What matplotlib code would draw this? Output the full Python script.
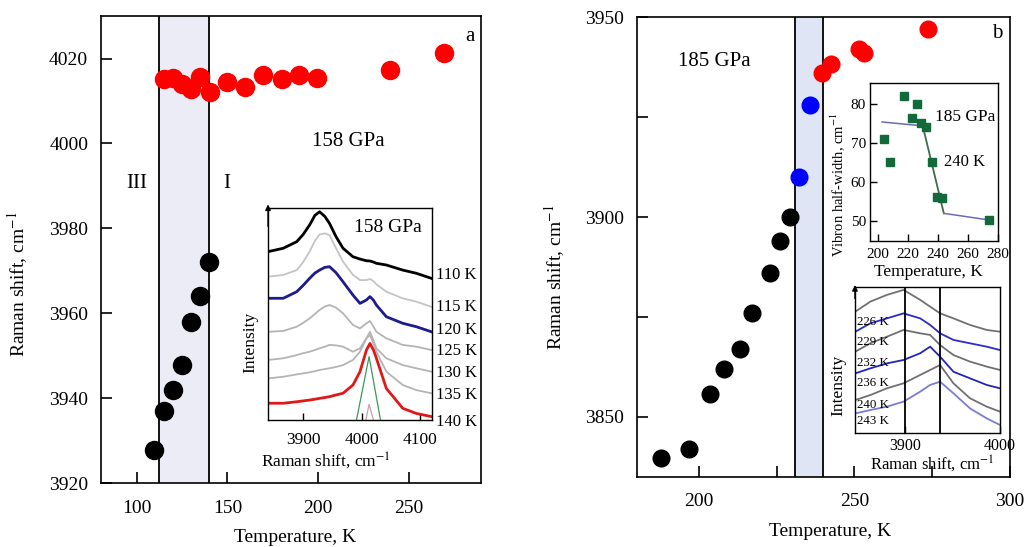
import matplotlib
matplotlib.use("Agg")
import matplotlib.pyplot as plt
from matplotlib.ticker import MultipleLocator

plt.rcParams['font.family'] = ['Liberation Serif', 'DejaVu Serif']
plt.rcParams['mathtext.fontset'] = 'stix'

# ---- panel a, 158 GPa ----
a_red_T = [114.7, 119.8, 124.8, 129.8, 134.9, 140.4, 149.6, 159.7, 169.7, 179.9, 189.6, 199.5, 239.8, 269.8]
a_red_shift = [4015.1, 4015.4, 4014.1, 4012.9, 4015.7, 4012.1, 4014.5, 4013.3, 4016.2, 4015.1, 4016.2, 4015.3, 4017.2, 4021.2]
a_black_T = [109.7, 114.7, 120, 125, 129.7, 135, 140]
a_black_shift = [3927.9, 3937, 3941.9, 3947.9, 3958, 3964, 3972]
a_band = (112, 140)

# inset a: spectra (arbitrary intensity units)
a_spec_x = [3840, 3866, 3889, 3900, 3911, 3920, 3928, 3937, 3945, 3956, 3968, 3985, 3997, 4008, 4014, 4020, 4025, 4042, 4070, 4093, 4119]
a_spec_110 = [79.4, 81, 84.1, 87.5, 92, 96.5, 98.2, 96, 92.7, 86.5, 81, 77, 75.9, 75.1, 75, 74.5, 73.9, 73.1, 70.7, 69.2, 66.8]
a_spec_115 = [67.6, 68.4, 70.7, 74.5, 79.4, 84.5, 87.5, 88, 87.2, 81, 74.7, 68.4, 66, 66, 66.5, 65.5, 64, 60.5, 57.4, 55.8, 53.4]
a_spec_120 = [57.4, 57.4, 60.5, 63.5, 66.8, 69.3, 70.7, 72, 72.3, 69.5, 65.2, 58.9, 55, 56.6, 58.2, 56.5, 54.2, 48.7, 45.6, 44, 41.6]
a_spec_125 = [41.6, 42, 44, 45.8, 47.9, 50, 51.9, 53.5, 54.2, 53, 50.3, 44.8, 43.2, 45.6, 46.7, 44, 41.6, 38.5, 35.4, 34.6, 33]
a_spec_130 = [28.3, 29.1, 30.6, 31.5, 32.2, 33, 33.8, 34.6, 35.4, 35.2, 34.6, 32.2, 33.8, 38.5, 41.6, 37.5, 33.8, 29.1, 25.9, 24.4, 22.8]
a_spec_135 = [19.6, 20.4, 21.5, 22, 22.5, 23, 23.6, 24, 24.4, 25, 25.9, 28.3, 32.2, 38.5, 40.1, 36, 32.2, 22.8, 16.5, 14.1, 12.6]
a_spec_140 = [7.9, 7.9, 8.6, 9, 9.4, 9.8, 10.2, 10.6, 11, 11.8, 12.6, 16.5, 22.8, 33, 36.1, 33, 29.1, 14.9, 5.5, 3.1, 1.6]
a_fit_x = [3991, 4012.5, 4032]
a_fit_y = [0, 29.9, 0]
a_small_x = [4007, 4012.5, 4020]
a_small_y = [0, 7.4, 0]
a_labels = ["110 K", "115 K", "120 K", "125 K", "130 K", "135 K", "140 K"]

# ---- panel b, 185 GPa ----
b_black_T = [187.7, 196.8, 203.7, 208, 213.1, 216.9, 223, 226, 229.3]
b_black_shift = [3839.8, 3841.9, 3855.7, 3862, 3867, 3876, 3886, 3894, 3900]
b_blue_T = [232.2, 235.8]
b_blue_shift = [3910, 3928]
b_red_T = [239.5, 242.5, 251.3, 253.1, 273.6]
b_red_shift = [3936.1, 3938.2, 3942, 3941, 3947]
b_band = (231, 240)

# inset b, vibron half-width
hw_T = [204, 208, 217.7, 223.2, 226, 229.1, 232.2, 235.9, 239.7, 243, 274]
hw = [71.1, 65.1, 82.1, 76.3, 80.1, 75.1, 74.1, 65.1, 56.2, 56, 50.3]
fit_T = [203, 230, 244, 274]
fit_hw = [75.4, 74.4, 52, 50.3]

# inset b, spectra
b_spec_x = [3847.4, 3863.2, 3880.7, 3898.2, 3915.8, 3926.3, 3936.8, 3950.9, 3968.4, 3986, 4000]
b_spec_226 = [83, 89.8, 94.4, 97.8, 91, 86.4, 81.8, 78.4, 73.9, 70.5, 69.3]
b_spec_229 = [69.3, 75, 78.4, 81.8, 78.4, 73.9, 68.2, 63.7, 61.4, 59.1, 56.8]
b_spec_232 = [55.7, 61.4, 65.9, 70.5, 68.2, 67.1, 60.2, 53.4, 48.9, 45.5, 43.2]
b_spec_236 = [40.9, 44.3, 47.7, 50, 54.6, 59.1, 52.3, 42, 37.5, 33, 30.7]
b_spec_240 = [22.7, 26.1, 30.7, 34.1, 39.8, 43.2, 46.6, 34.1, 23.9, 18.2, 14.8]
b_spec_243 = [13.6, 15.9, 18.2, 21.6, 28.4, 33, 35.2, 27.3, 17, 10.2, 5.7]
b_labels = ["226 K", "229 K", "232 K", "236 K", "240 K", "243 K"]
b_lines = [3900, 3937]


def style_main(ax):
    for s in ax.spines.values():
        s.set_linewidth(1.2)
    ax.tick_params(which='both', direction='in', length=8, width=1.2,
                   labelsize=14, top=False, right=False)
    ax.tick_params(axis='x', which='both', pad=12)
    ax.tick_params(axis='y', which='both', pad=9)


def style_inset(ax, size=12, pad=6):
    for s in ax.spines.values():
        s.set_linewidth(1.0)
    ax.tick_params(which='both', direction='in', length=5, width=1.0,
                   labelsize=size, pad=pad, top=False, right=False)


def place_labels(ax, xpos, ypos):
    # label centres in axes fraction
    ax.xaxis.label.set_verticalalignment('center')
    ax.yaxis.label.set_verticalalignment('center')
    ax.xaxis.set_label_coords(*xpos)
    ax.yaxis.set_label_coords(*ypos)


def up_arrow(ax):
    ax.annotate("", xy=(0, 1.03), xytext=(0, 0.9), xycoords='axes fraction',
                arrowprops=dict(arrowstyle='-|>', color='black', lw=1.0,
                                mutation_scale=8), annotation_clip=False)


fig = plt.figure(figsize=(10.25, 5.47), dpi=100)

# ---------- panel a ----------
ax = fig.add_axes([0.0982, 0.1165, 0.3711, 0.8542])
ax.axvspan(*a_band, color='#ececf6', lw=0)
for t in a_band:
    ax.axvline(t, color='black', lw=1.3)
ax.plot(a_black_T, a_black_shift, 'o', color='black', ms=13)
ax.plot(a_red_T, a_red_shift, 'o', color='#ff0000', ms=13)
ax.set_xlim(80, 290)
ax.set_ylim(3920, 4030)
ax.set_xticks([100, 150, 200, 250])
ax.set_yticks([3920, 3940, 3960, 3980, 4000, 4020])
style_main(ax)
ax.set_xlabel("Temperature, K", fontsize=14)
ax.set_ylabel(r"Raman shift, cm$^{-1}$", fontsize=14)
place_labels(ax, (0.511, -0.115), (-0.217, 0.4265))
ax.text(100, 3990.5, "III", fontsize=15, ha='center', va='center')
ax.text(149.6, 3990.5, "I", fontsize=15, ha='center', va='center')
ax.text(216.6, 4000.4, "158 GPa", fontsize=15, ha='center', va='center')
ax.text(283.6, 4025.1, "a", fontsize=15, ha='center', va='center')

# inset a
ia = fig.add_axes([0.2615, 0.2322, 0.16, 0.3876])
ia.plot(a_fit_x, a_fit_y, color='#3a9a5a', lw=0.9)
ia.plot(a_small_x, a_small_y, color='#c8a0a8', lw=0.9)
spectra_a = [a_spec_110, a_spec_115, a_spec_120, a_spec_125, a_spec_130, a_spec_135, a_spec_140]
colors_a = ['black', '#c4c4c4', '#1c1c8a', '#b4b4b4', '#b4b4b4', '#b4b4b4', '#e01818']
widths_a = [2.0, 1.3, 2.0, 1.3, 1.3, 1.3, 2.0]
for y, c, w in zip(spectra_a, colors_a, widths_a):
    ia.plot(a_spec_x, y, color=c, lw=w)
ia.set_xlim(3840, 4120)
ia.set_ylim(0, 100)
ia.set_xticks([3900, 4000, 4100])
ia.set_yticks([])
style_inset(ia, size=12.5, pad=9)
ia.set_xlabel(r"Raman shift, cm$^{-1}$", fontsize=12.5)
ia.set_ylabel("Intensity", fontsize=12.5)
place_labels(ia, (0.352, -0.192), (-0.11, 0.368))
ia.text(0.732, 0.906, "158 GPa", transform=ia.transAxes, fontsize=14,
        ha='center', va='center')
for lab, yf in zip(a_labels, [0.684, 0.535, 0.425, 0.325, 0.22, 0.118, -0.008]):
    ia.text(1.025, yf, lab, transform=ia.transAxes, fontsize=12,
            ha='left', va='center', clip_on=False)
up_arrow(ia)

# ---------- panel b ----------
bx = fig.add_axes([0.6212, 0.1285, 0.3642, 0.8399])
bx.axvspan(*b_band, color='#dfe5f4', lw=0)
for t in b_band:
    bx.axvline(t, color='black', lw=1.3)
bx.plot(b_black_T, b_black_shift, 'o', color='black', ms=12)
bx.plot(b_blue_T, b_blue_shift, 'o', color='#0000ff', ms=12)
bx.plot(b_red_T, b_red_shift, 'o', color='#ff0000', ms=12)
bx.set_xlim(180, 300)
bx.set_ylim(3835, 3950)
bx.set_xticks([200, 250, 300])
bx.xaxis.set_minor_locator(MultipleLocator(25))
bx.set_yticks([3850, 3900, 3950])
bx.yaxis.set_minor_locator(MultipleLocator(25))
style_main(bx)
bx.set_xlabel("Temperature, K", fontsize=14)
bx.set_ylabel(r"Raman shift, cm$^{-1}$", fontsize=14)
place_labels(bx, (0.518, -0.12), (-0.219, 0.4347))
bx.text(205, 3938.9, "185 GPa", fontsize=15, ha='center', va='center')
bx.text(295.9, 3946, "b", fontsize=15, ha='center', va='center')

# inset b, half-width
ib = fig.add_axes([0.8488, 0.56, 0.1249, 0.2877])
ib.plot(fit_T[:2], fit_hw[:2], color='#6a6ab8', lw=1.1)
ib.plot(fit_T[1:3], fit_hw[1:3], color='#3b6e48', lw=1.3)
ib.plot(fit_T[2:], fit_hw[2:], color='#6a6ab8', lw=1.1)
ib.plot(hw_T, hw, 's', color='#12693a', ms=5.5)
ib.set_xlim(195, 280)
ib.set_ylim(45, 85.3)
ib.set_xticks([200, 220, 240, 260, 280])
ib.set_yticks([50, 60, 70, 80])
style_inset(ib, size=11, pad=5)
ib.tick_params(axis='y', pad=3)
ib.set_xlabel("Temperature, K", fontsize=12.5)
ib.set_ylabel(r"Vibron half-width, cm$^{-1}$", fontsize=10.5)
place_labels(ib, (0.46, -0.2), (-0.25, 0.354))
ib.text(0.742, 0.786, "185 GPa", transform=ib.transAxes, fontsize=12.5,
        ha='center', va='center')
ib.text(0.742, 0.5, "240 K", transform=ib.transAxes, fontsize=12,
        ha='center', va='center')

# inset b, spectra
ic = fig.add_axes([0.8341, 0.2078, 0.1415, 0.2681])
spectra_b = [b_spec_226, b_spec_229, b_spec_232, b_spec_236, b_spec_240, b_spec_243]
colors_b = ['#707070', '#2c2cc8', '#707070', '#2424b8', '#707070', '#7b7bd6']
for y, c in zip(spectra_b, colors_b):
    ic.plot(b_spec_x, y, color=c, lw=1.3)
for x in b_lines:
    ic.axvline(x, color='black', lw=1.3)
ic.set_xlim(3847, 4000)
ic.set_ylim(0, 100)
ic.set_xticks([3900, 4000])
ic.set_yticks([])
style_inset(ic, size=11.5, pad=3)
ic.set_xlabel(r"Raman shift, cm$^{-1}$", fontsize=12)
ic.set_ylabel("Intensity", fontsize=12.5)
place_labels(ic, (0.529, -0.205), (-0.115, 0.33))
for lab, yf in zip(b_labels, [0.761, 0.625, 0.478, 0.342, 0.194, 0.081]):
    ic.text(0.012, yf, lab, transform=ic.transAxes, fontsize=9.3,
            ha='left', va='center')
up_arrow(ic)

fig.savefig("out.png", dpi=100)
